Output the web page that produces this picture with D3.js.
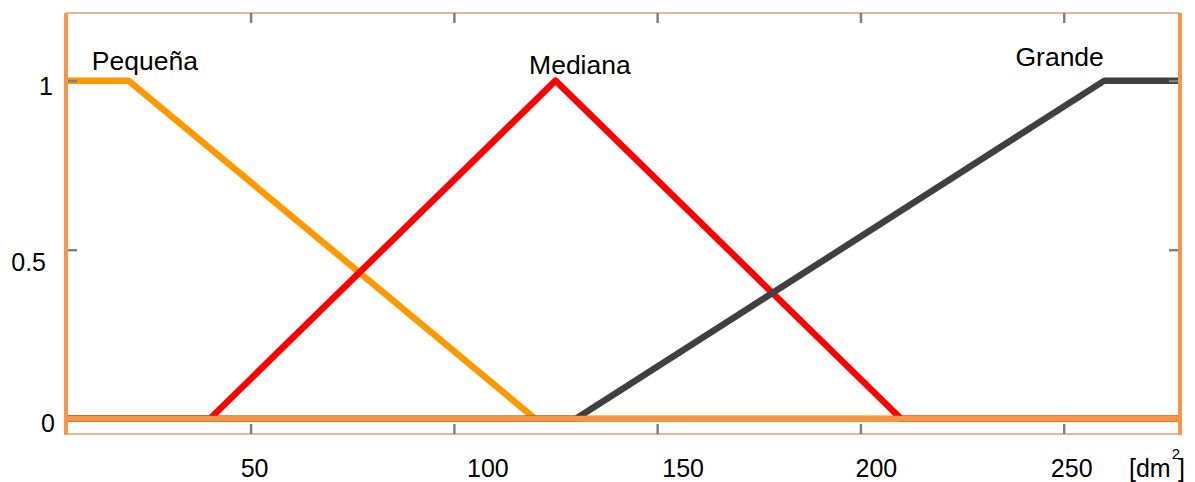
<!DOCTYPE html>
<html>
<head>
<meta charset="utf-8">
<script src="https://cdn.jsdelivr.net/npm/d3@7"></script>
<style>
  html, body { margin: 0; padding: 0; background: #fff; }
  svg { display: block; font-family: "Liberation Sans", Arial, sans-serif; }
</style>
</head>
<body>
<svg id="chart" width="1195" height="482"></svg>
<script>
// Axis limits and ticks
const xLimits = [4.6, 278.6];
const yLimits = [-0.045, 1.2];
const xTicks = [50, 100, 150, 200, 250];
const yTicks = [0, 0.5, 1];
const yTickLabels = ["0", "0.5", "1"];

// Membership functions (breakpoints)
const pequenaX = [4.6, 20, 120, 278.6];
const pequenaY = [1, 1, 0, 0];
const medianaX = [4.6, 40, 125, 210, 278.6];
const medianaY = [0, 0, 1, 0, 0];
const grandeX  = [4.6, 130, 260, 278.6];
const grandeY  = [0, 0, 1, 1];

const seriesNames = ["Pequeña", "Mediana", "Grande"];
const labelX = [24, 131, 249];
const labelY = [1.03, 1.02, 1.043];

// layout
const plot = { left: 66, right: 1180, top: 13, bottom: 434 };
const xLabelShift = [4, 34, 26, 16, 8];
const yLabelPos = { "0": [55, 13], "0.5": [46, 21], "1": [53, 14] };

const svg = d3.select("#chart");
const x = d3.scaleLinear().domain(xLimits).range([plot.left, plot.right]);
const y = d3.scaleLinear().domain(yLimits).range([plot.bottom, plot.top]);

const colors = ["#FF9900", "#FF0000", "#404040"];
const widths = [6.5, 6.5, 6.5];
const series = [
  d3.zip(pequenaX, pequenaY),
  d3.zip(medianaX, medianaY),
  d3.zip(grandeX, grandeY)
];

const line = d3.line().x(d => x(d[0])).y(d => y(d[1]));

const g = svg.append("g");
series.forEach((s, i) => {
  g.append("path")
    .datum(s)
    .attr("d", line)
    .attr("fill", "none")
    .attr("stroke", colors[i])
    .attr("stroke-width", widths[i])
    .attr("stroke-linejoin", "round");
});

// zero baseline
g.append("line")
  .attr("x1", x(xLimits[0])).attr("x2", x(xLimits[1]))
  .attr("y1", y(0)).attr("y2", y(0))
  .attr("stroke", "#F79646").attr("stroke-width", 6);

// frame: thin top/bottom, thick sides
svg.append("line").attr("x1", plot.left).attr("x2", plot.right)
  .attr("y1", plot.top).attr("y2", plot.top)
  .attr("stroke", "#D9A27A").attr("stroke-width", 1.5);
svg.append("line").attr("x1", plot.left).attr("x2", plot.right)
  .attr("y1", plot.bottom).attr("y2", plot.bottom)
  .attr("stroke", "#D9A27A").attr("stroke-width", 1.5);

// tick marks (inside the frame)
const tickLen = 10;
const tickColor = "#808080";
const xAxisBottom = d3.axisTop(x).tickValues(xTicks).tickSize(tickLen).tickFormat("");
const xAxisTop = d3.axisBottom(x).tickValues(xTicks).tickSize(tickLen).tickFormat("");
const yAxisLeft = d3.axisRight(y).tickValues(yTicks.filter(v => v > 0)).tickSize(tickLen).tickFormat("");
const yAxisRight = d3.axisLeft(y).tickValues(yTicks.filter(v => v > 0)).tickSize(tickLen).tickFormat("");

function styleTicks(sel) {
  sel.select(".domain").remove();
  sel.selectAll(".tick line").attr("stroke", tickColor).attr("stroke-width", 2.5);
}
svg.append("g").attr("transform", `translate(0,${plot.bottom})`).call(xAxisBottom).call(styleTicks);
svg.append("g").attr("transform", `translate(0,${plot.top})`).call(xAxisTop).call(styleTicks);
svg.append("g").attr("transform", `translate(${plot.left + 1},0)`).call(yAxisLeft).call(styleTicks);
svg.append("g").attr("transform", `translate(${plot.right - 1},0)`).call(yAxisRight).call(styleTicks);

svg.append("line").attr("x1", plot.left).attr("x2", plot.left)
  .attr("y1", plot.top).attr("y2", plot.bottom + 1)
  .attr("stroke", "#F79646").attr("stroke-width", 4);
svg.append("line").attr("x1", plot.right).attr("x2", plot.right)
  .attr("y1", plot.top).attr("y2", plot.bottom + 1)
  .attr("stroke", "#F79646").attr("stroke-width", 4);

// x tick labels
svg.append("g").selectAll("text")
  .data(xTicks)
  .join("text")
  .attr("x", (d, i) => x(d) + xLabelShift[i])
  .attr("y", 477)
  .attr("text-anchor", "middle")
  .attr("font-size", 25)
  .attr("fill", "#000")
  .text(d => d);

// unit label
const unit = svg.append("text")
  .attr("x", 1129).attr("y", 477)
  .attr("font-size", 25).attr("fill", "#000");
unit.append("tspan").text("[dm");
unit.append("tspan").attr("font-size", 15).attr("dy", -18).attr("dx", 1).text("2");
unit.append("tspan").attr("dy", 18).attr("dx", -2).text("]");

// y tick labels
svg.append("g").selectAll("text")
  .data(yTicks)
  .join("text")
  .attr("x", (d, i) => yLabelPos[yTickLabels[i]][0])
  .attr("y", (d, i) => y(d) + yLabelPos[yTickLabels[i]][1])
  .attr("text-anchor", "end")
  .attr("font-size", 25)
  .attr("fill", "#000")
  .text((d, i) => yTickLabels[i]);

// series labels
svg.append("g").selectAll("text")
  .data(seriesNames)
  .join("text")
  .attr("x", (d, i) => x(labelX[i]))
  .attr("y", (d, i) => y(labelY[i]))
  .attr("text-anchor", "middle")
  .attr("font-size", 26.5)
  .attr("fill", "#000")
  .text(d => d);
</script>
</body>
</html>
